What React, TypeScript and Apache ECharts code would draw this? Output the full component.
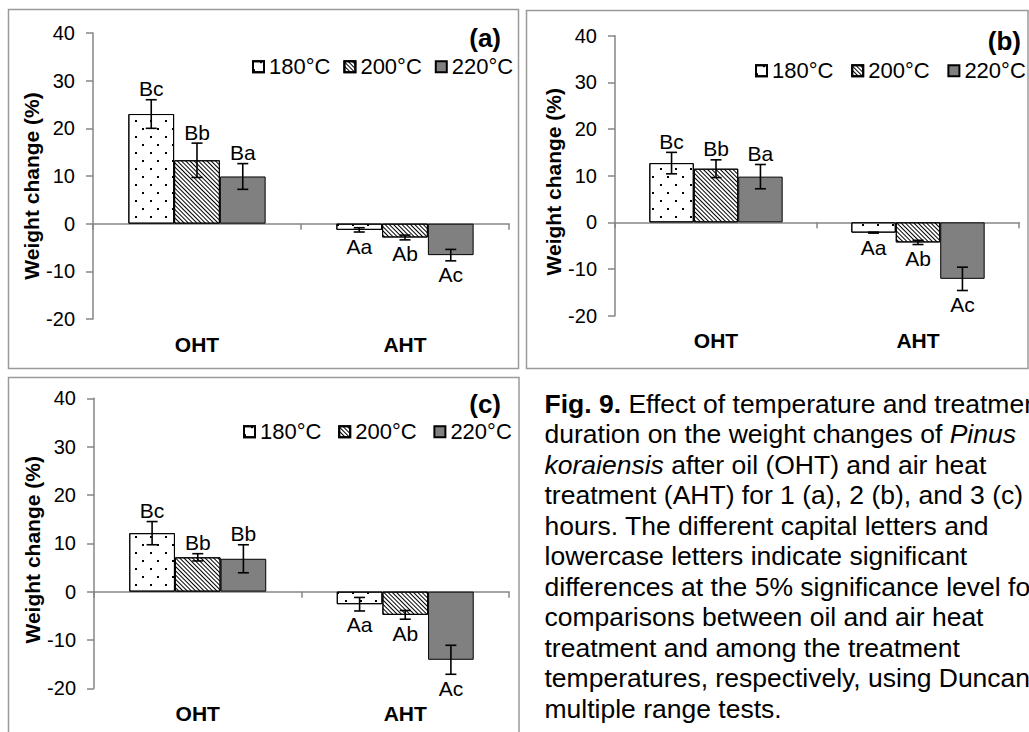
import React, { useEffect, useRef } from 'react';
import * as echarts from 'echarts';

// ---------- data ----------
const categories = ['OHT', 'AHT'];
const temperatures = ['180°C', '200°C', '220°C'];
const yMin = -20;
const yMax = 40;
const yStep = 10;

// (a) 1 hour
const meanA180 = [23.0, -1.3];
const meanA200 = [13.3, -2.9];
const meanA220 = [9.9, -6.6];
const errA180 = [3.0, 0.45];
const errA200 = [3.6, 0.5];
const errA220 = [2.7, 1.2];
const letA180 = ['Bc', 'Aa'];
const letA200 = ['Bb', 'Ab'];
const letA220 = ['Ba', 'Ac'];

// (b) 2 hours
const meanB180 = [12.7, -2.2];
const meanB200 = [11.5, -4.3];
const meanB220 = [9.8, -12.1];
const errB180 = [2.3, 0.1];
const errB200 = [1.9, 0.45];
const errB220 = [2.6, 2.5];
const letB180 = ['Bc', 'Aa'];
const letB200 = ['Bb', 'Ab'];
const letB220 = ['Ba', 'Ac'];

// (c) 3 hours
const meanC180 = [12.1, -2.6];
const meanC200 = [7.1, -4.8];
const meanC220 = [6.8, -14.1];
const errC180 = [2.4, 1.4];
const errC200 = [0.75, 0.9];
const errC220 = [2.9, 3.0];
const letC180 = ['Bc', 'Aa'];
const letC200 = ['Bb', 'Ab'];
const letC220 = ['Bb', 'Ac'];

const yTitle = 'Weight change (%)';

const captionLines = [
  '{b|Fig. 9.} Effect of temperature and treatment',
  'duration on the weight changes of {i|Pinus}',
  '{i|koraiensis} after oil (OHT) and air heat',
  'treatment (AHT) for 1 (a), 2 (b), and 3 (c)',
  'hours. The different capital letters and',
  'lowercase letters indicate significant',
  'differences at the 5% significance level for',
  'comparisons between oil and air heat',
  'treatment and among the treatment',
  "temperatures, respectively, using Duncan's",
  'multiple range tests.',
];

// ---------- layout / style ----------
const FONT = '"Liberation Sans", Arial, Helvetica, sans-serif';
const AX = '#868686';
const FRAME = '#9a9a9a';
const CAT_GAP = 0.34;
const CAPTION_SIZE = 26.5;

const panels = [
  {
    tag: '(a)',
    means: [meanA180, meanA200, meanA220],
    errs: [errA180, errA200, errA220],
    lets: [letA180, letA200, letA220],
    grid: { left: 93, top: 33, width: 416, height: 286 },
    legend: { left: 252, top: 55.7, gap: 13 },
    nameGap: 50,
    namePad: 20,
    tagPos: [501, 37.5],
    frame: [8.5, 9.5, 510, 359],
  },
  {
    tag: '(b)',
    means: [meanB180, meanB200, meanB220],
    errs: [errB180, errB200, errB220],
    lets: [letB180, letB200, letB220],
    grid: { left: 615, top: 35.7, width: 404, height: 280 },
    legend: { left: 755, top: 59.7, gap: 17.8 },
    nameGap: 51,
    namePad: 12,
    tagPos: [1021, 40.8],
    frame: [526.5, 10.5, 501.5, 358],
  },
  {
    tag: '(c)',
    means: [meanC180, meanC200, meanC220],
    errs: [errC180, errC200, errC220],
    lets: [letC180, letC200, letC220],
    grid: { left: 94, top: 398.3, width: 415, height: 290 },
    legend: { left: 243, top: 420.7, gap: 16.8 },
    nameGap: 46.5,
    namePad: 13,
    tagPos: [501, 404],
    frame: [8.5, 377.5, 510.5, 400],
  },
];

const seriesStyles = [
  {
    color: '#ffffff',
    decal: {
      symbol: 'rect',
      symbolSize: 1,
      color: '#000000',
      dashArrayX: [[2, 13], [0, 7, 2, 6]],
      dashArrayY: [2, 6],
      rotation: 0,
    },
  },
  {
    color: '#ffffff',
    decal: {
      symbol: 'rect',
      symbolSize: 1,
      color: '#000000',
      dashArrayX: [1, 0],
      dashArrayY: [1, 2],
      rotation: Math.PI / 4,
    },
  },
  { color: '#808080', decal: null as any },
];

function buildOption() {
  const grid: any[] = [];
  const xAxis: any[] = [];
  const yAxis: any[] = [];
  const legend: any[] = [];
  const series: any[] = [];
  const graphic: any[] = [];

  panels.forEach((p, i) => {
    grid.push({ ...p.grid, containLabel: false, outerBoundsMode: 'none' });
    xAxis.push({
      type: 'category',
      gridIndex: i,
      data: categories,
      position: 'bottom',
      axisLine: { show: true, onZero: true, lineStyle: { color: AX, width: 1.5 } },
      axisTick: { show: true, inside: false, length: 6, lineStyle: { color: AX, width: 1.5 } },
      axisLabel: { show: false },
      splitLine: { show: false },
    });
    xAxis.push({
      type: 'category',
      gridIndex: i,
      data: categories,
      position: 'bottom',
      axisLine: { show: false, onZero: false },
      axisTick: { show: false },
      axisLabel: { margin: 14.5, fontSize: 21, fontWeight: 'bold', color: '#000', fontFamily: FONT },
      splitLine: { show: false },
    });
    yAxis.push({
      type: 'value',
      gridIndex: i,
      min: yMin,
      max: yMax,
      interval: yStep,
      axisLine: { show: true, lineStyle: { color: AX, width: 1.5 } },
      axisTick: { show: true, inside: false, length: 7, lineStyle: { color: AX, width: 1.5 } },
      splitLine: { show: false },
      axisLabel: { fontSize: 20, color: '#000', margin: 18, fontFamily: FONT },
      name: yTitle,
      nameLocation: 'middle',
      nameGap: p.nameGap,
      nameTextStyle: {
        fontSize: 21,
        fontWeight: 'bold',
        color: '#000',
        fontFamily: FONT,
        padding: [0, p.namePad, 0, 0],
      },
    });
    legend.push({
      left: p.legend.left,
      top: p.legend.top,
      orient: 'horizontal',
      padding: 0,
      itemGap: p.legend.gap,
      itemWidth: 11,
      itemHeight: 11,
      icon: 'rect',
      selectedMode: false,
      data: temperatures,
      textStyle: { fontSize: 22, color: '#000', fontFamily: FONT },
    });

    temperatures.forEach((t, s) => {
      const st = seriesStyles[s];
      const itemStyle: any = { color: st.color, borderColor: '#000', borderWidth: 1 };
      if (st.decal) itemStyle.decal = st.decal;
      series.push({
        type: 'bar',
        name: t,
        xAxisIndex: i * 2,
        yAxisIndex: i,
        data: p.means[s],
        barGap: '0%',
        barCategoryGap: CAT_GAP * 100 + '%',
        itemStyle,
        emphasis: { disabled: true },
        z: 2,
      });
    });

    const ebData: number[][] = [];
    const ebLabels: string[] = [];
    temperatures.forEach((_, s) => {
      categories.forEach((__, c) => {
        ebData.push([c, p.means[s][c], p.errs[s][c], s]);
        ebLabels.push(p.lets[s][c]);
      });
    });

    series.push({
      type: 'custom',
      name: 'err' + i,
      xAxisIndex: i * 2,
      yAxisIndex: i,
      data: ebData,
      z: 5,
      silent: true,
      renderItem: (params: any, api: any) => {
        const cat = api.value(0);
        const v = api.value(1);
        const e = api.value(2);
        const s = api.value(3);
        const band = api.size([1, 0])[0];
        const bw = (band * (1 - CAT_GAP)) / 3;
        const cx = api.coord([cat, 0])[0] + (s - 1) * bw;
        const yT = api.coord([cat, v + e])[1];
        const yB = api.coord([cat, v - e])[1];
        const ly = v >= 0 ? yT - 11 : yB + 14;
        const cap = 5.5;
        const ls = { stroke: '#000', lineWidth: 1.6 };
        return {
          type: 'group',
          children: [
            { type: 'line', shape: { x1: cx, y1: yT, x2: cx, y2: yB }, style: ls },
            { type: 'line', shape: { x1: cx - cap, y1: yT, x2: cx + cap, y2: yT }, style: ls },
            { type: 'line', shape: { x1: cx - cap, y1: yB, x2: cx + cap, y2: yB }, style: ls },
            {
              type: 'text',
              x: cx,
              y: ly,
              style: {
                text: ebLabels[params.dataIndex],
                fontSize: 21,
                fontFamily: FONT,
                fill: '#000',
                align: 'center',
                verticalAlign: 'middle',
              },
            },
          ],
        };
      },
    });

    graphic.push({
      type: 'rect',
      shape: { x: p.frame[0], y: p.frame[1], width: p.frame[2], height: p.frame[3] },
      style: { fill: 'none', stroke: FRAME, lineWidth: 1.5 },
      silent: true,
    });
    graphic.push({
      type: 'text',
      x: p.tagPos[0],
      y: p.tagPos[1],
      style: {
        text: p.tag,
        fontSize: 26,
        fontWeight: 'bold',
        fontFamily: FONT,
        fill: '#000',
        align: 'right',
        verticalAlign: 'middle',
      },
      silent: true,
    });
  });

  graphic.push({
    type: 'text',
    x: 544.5,
    y: 388.5,
    silent: true,
    style: {
      text: captionLines.join('\n'),
      fontSize: CAPTION_SIZE,
      lineHeight: 30.5,
      fontFamily: FONT,
      fill: '#000',
      align: 'left',
      verticalAlign: 'top',
      rich: {
        b: { fontSize: CAPTION_SIZE, lineHeight: 30.5, fontWeight: 'bold', fontFamily: FONT, fill: '#000' },
        i: { fontSize: CAPTION_SIZE, lineHeight: 30.5, fontStyle: 'italic', fontFamily: FONT, fill: '#000' },
      },
    },
  });

  return {
    animation: false,
    backgroundColor: '#ffffff',
    textStyle: { fontFamily: FONT, color: '#000' },
    tooltip: { show: false },
    grid,
    xAxis,
    yAxis,
    legend,
    series,
    graphic,
  };
}

export default function App() {
  const ref = useRef<HTMLDivElement>(null);
  useEffect(() => {
    if (!ref.current) return;
    const chart = echarts.init(ref.current, undefined, { renderer: 'svg' });
    chart.setOption(buildOption() as any);
    return () => chart.dispose();
  }, []);
  return (
    <div
      ref={ref}
      style={{ position: 'absolute', left: 0, top: 0, width: 1029, height: 732, background: '#fff' }}
    />
  );
}
